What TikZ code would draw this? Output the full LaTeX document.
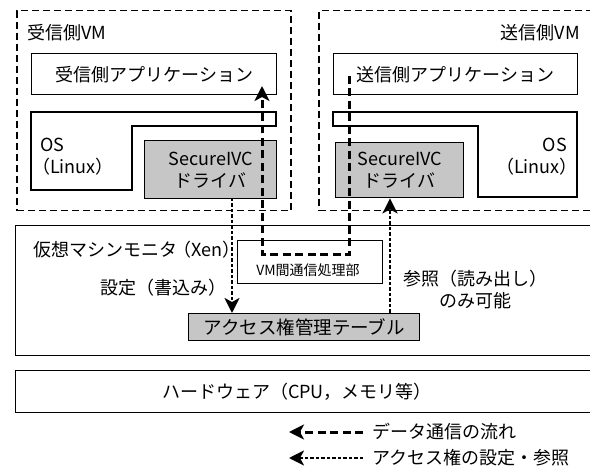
\documentclass[tikz,border=0pt]{standalone}
\usepackage{fontspec}
\setmainfont{Noto Sans CJK JP}
\usetikzlibrary{arrows.meta}
\begin{document}
\begin{tikzpicture}[x=1pt,y=-1pt,
  box/.style={draw, line width=1.4pt, rectangle, inner sep=0pt, anchor=north west},
  gbox/.style={box, fill=gray!45},
  vmbox/.style={box, line width=1.5pt, dash pattern=on 7pt off 4pt},
  lbl/.style={inner sep=0pt, font=\fontsize{18}{22}\selectfont},
  small/.style={inner sep=0pt, font=\fontsize{14}{16}\selectfont},
  oshape/.style={draw, line width=1.4pt},
  data/.style={line width=3pt, dash pattern=on 8pt off 4.5pt, -{Stealth[length=15pt,width=15pt,inset=4pt]}},
  acc/.style={line width=2.6pt, dash pattern=on 3.5pt off 2pt, -{Stealth[length=15pt,width=15pt,inset=4pt]}},
]
\useasboundingbox (0,0) rectangle (590,468);

% Virtual machines
\node[vmbox, minimum width=274pt, minimum height=200pt] (recvvm) at (16,10) {};
\node[vmbox, minimum width=290pt, minimum height=200pt] (sendvm) at (318,10) {};
\node[lbl, anchor=west] (recvvmlbl) at (27,33) {受信側VM};
\node[lbl, anchor=east] (sendvmlbl) at (580,33) {送信側VM};

% Applications
\node[box, lbl, minimum width=245pt, minimum height=41pt] (recvapp) at (31,53) {受信側アプリケーション};
\node[box, lbl, minimum width=244pt, minimum height=41pt] (sendapp) at (333,53) {送信側アプリケーション};

% OS shapes
\draw[oshape] (31,112) -- (276,112) -- (276,126) -- (132,126) -- (132,190) -- (31,190) -- cycle;
\draw[oshape] (333,112) -- (577,112) -- (577,197) -- (478,197) -- (478,126) -- (333,126) -- cycle;
\node[lbl, anchor=west] (recvos) at (40,145) {OS};
\node[lbl, anchor=west] (recvlinux) at (32,167) {（Linux）};
\node[lbl, anchor=east] (sendos) at (567,145) {OS};
\node[lbl, anchor=east] (sendlinux) at (578,167) {（Linux）};

% Drivers
\node[gbox, lbl, align=center, minimum width=132pt, minimum height=58pt] (recvdrv) at (144,140) {SecureIVC\\ドライバ};
\node[gbox, lbl, align=center, minimum width=128pt, minimum height=55pt] (senddrv) at (335,142) {SecureIVC\\ドライバ};

% Hypervisor
\node[box, minimum width=590pt, minimum height=130pt] (xen) at (15,225) {};
\node[lbl, anchor=west] (xenlbl) at (33,250) {仮想マシンモニタ\hspace{-4pt}（Xen）};
\node[box, minimum width=145pt, minimum height=43pt] (vmcom) at (237,240) {};
\node[small] (vmcomlbl) at (308,270) {VM間通信処理部};
\node[gbox, inner sep=0pt, font=\fontsize{18.5}{20}\selectfont, minimum width=231pt, minimum height=27pt] (acctab) at (188,313) {アクセス権管理テーブル};
\node[lbl, anchor=west] (setlbl) at (100,288) {設定（書込み）};
\node[lbl, align=center] (reflbl) at (475,290) {参照（読み出し）\\のみ可能};

% Hardware
\node[box, minimum width=590pt, minimum height=42pt] (hw) at (15,370) {};
\node[lbl] (hwlbl) at (297,392) {ハードウェア（CPU，メモリ等）};

% Data flow
\coordinate (ds) at (349,76);
\coordinate (dl) at (262,255);
\coordinate (de) at (262,86);
\draw[data] (ds) |- (dl) -- (de);

% Access right flows
\coordinate (as) at (232,198);
\draw[acc] (as) -- (as |- acctab.north);
\coordinate (ar) at (390,313);
\draw[acc] (ar) -- (ar |- senddrv.south);

% Legend
\coordinate (l1t) at (363,432);
\coordinate (l1h) at (289,432);
\draw[data] (l1t) -- (l1h);
\node[lbl, anchor=west] (leg1) at (372,432) {データ通信の流れ};
\coordinate (l2t) at (363,458);
\coordinate (l2h) at (289,458);
\draw[acc] (l2t) -- (l2h);
\node[lbl, anchor=west] (leg2) at (372,458) {アクセス権の設定・参照};
\end{tikzpicture}
\end{document}
